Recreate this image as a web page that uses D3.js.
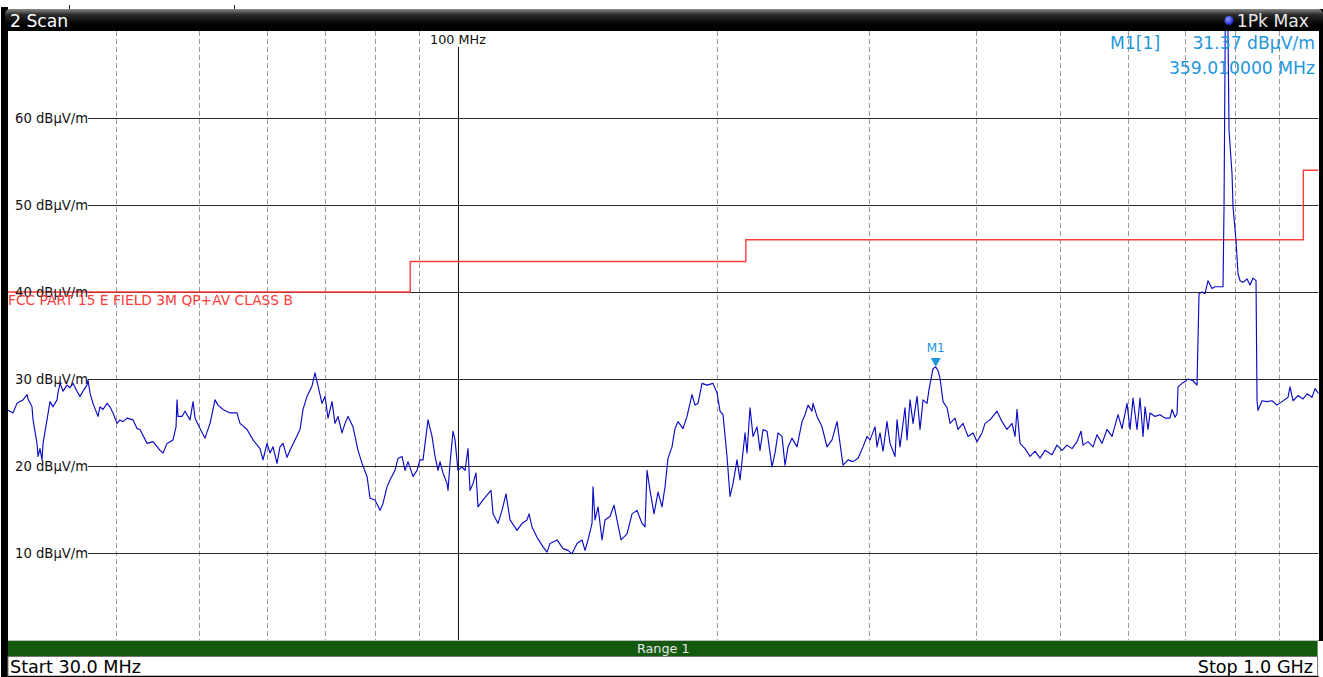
<!DOCTYPE html>
<html><head><meta charset="utf-8">
<script src="https://cdn.jsdelivr.net/npm/d3@7"></script>
<style>
html,body{margin:0;padding:0;background:#fff;}
svg{display:block;font-family:"DejaVu Sans",Verdana,sans-serif;}
</style></head><body>
<svg id="c" width="1323" height="677"></svg>
<script>
// ---- data ----
const freqMHz = [
30,30.16,30.4,30.73,30.98,31.23,31.57,31.65,31.99,32.08,
32.42,32.51,32.68,32.86,32.95,33.3,33.57,33.84,34.2,34.29,
34.48,34.76,35.13,35.41,35.7,36.08,36.37,36.67,37.06,37.16,
37.36,37.66,38.17,38.37,38.68,39.1,39.41,39.73,40.16,40.48,
40.81,41.25,41.92,42.37,42.71,43.52,44.22,45.06,45.42,45.91,
46.65,47.03,47.15,47.28,47.79,48.17,48.82,49.22,49.48,50.15,
50.82,51.51,52.2,52.62,53.33,54.34,55.36,55.81,56.87,57.79,
58.88,59.35,59.99,60.48,60.96,61.62,62.11,62.62,63.29,63.8,
64.66,65.53,66.06,66.77,67.67,68.21,68.76,69.5,70.06,70.63,
71.39,71.96,72.54,73.32,73.91,74.51,75.51,76.53,77.35,78.4,
79.03,80.09,81.17,81.82,82.7,83.37,84.49,85.18,86.09,86.79,
87.48,88.66,89.62,90.34,91.07,92.29,93.29,94.04,94.8,95.31,
96.07,97.11,97.37,97.89,98.68,99.21,100,101.08,101.9,102.72,
103.27,104.1,104.94,105.5,106.93,108.37,109.24,109.83,111.3,112.5,
113.71,114.94,117.11,118.69,120.28,120.93,121.9,123.55,125.54,126.9,
127.92,130.34,132.45,134.23,135.67,137.5,139.35,140.48,141.61,143.13,
143.52,144.29,145.45,147.01,148.2,150.19,151.81,153.03,154.68,157.18,
159.3,161.45,163.62,164.94,165.82,167.16,168.96,170.78,172.61,174,
175.41,177.29,178.72,180.16,182.59,184.55,187.04,188.55,190.07,192.11,
194.7,197.85,199.98,201.59,203.21,205.4,207.06,208.73,210.97,212.67,
215.54,216.69,218.44,220.2,222.57,224.36,226.17,228.6,231.68,233.55,
235.43,237.96,239.88,241.82,244.42,247.71,251.05,253.07,255.11,257.85,
258.54,261.33,264.85,268.41,272.03,275.69,277.91,280.15,283.93,287.75,
291.63,295.55,298.73,301.14,305.2,306.83,309.31,311.8,315.15,317.69,
321.97,323.7,326.31,330.7,332.48,335.16,337.86,341.49,344.25,347.02,
350.75,352.64,356.43,359.01,361.23,363.17,366.1,370.04,373.02,378.04,
381.09,386.22,391.42,396.69,400.96,406.36,409.64,415.15,423,428.7,
434.47,440.32,443.87,446.25,449.85,455.91,462.05,468.27,474.58,480.97,
490.06,496.66,503.35,510.13,517,523.96,529.6,532.44,539.61,546.88,
552.76,560.21,567.75,575.4,584.71,591,598.96,603.79,608.66,615.2,
620.16,625.16,628.51,633.58,636.98,645.56,654.25,663.06,671.99,675.6,
681.04,684.7,686.53,693.92,699.51,705.15,714.64,722.33,726.21,732.06,
737.96,743.91,751.91,757.97,768.18,774.37,776.44,779.55,783.74,786.89,
793.23,795.35,801.77,806.07,810.39,816.92,825.71,832.37,839.08,845.84,
848.11,850.38,859.53,871.11,882.84,894.73,906.78,921.45,926.4,933.86,
946.44,959.19,969.5,982.56,990.47,1000
];
const levelDbuVm = [
26.4,26.3,26.1,27.2,27.4,27.6,28.2,27.7,26.8,25.3,
22.6,21.1,22.0,20.7,22.6,25.3,27.4,26.8,27.6,28.4,
29.5,28.6,29.3,29.0,29.5,28.6,28.0,28.6,29.3,29.9,
28.4,27.2,25.7,26.8,26.5,27.2,26.8,26.1,24.9,25.3,
25.1,25.5,25.3,24.3,24.2,22.6,22.8,21.8,21.5,22.6,
23.0,24.5,27.6,25.7,25.7,26.3,25.3,27.4,25.5,24.3,
23.2,24.9,27.6,27.0,26.5,26.1,26.1,24.9,24.2,23.0,
22.0,20.7,22.6,21.5,22.2,20.3,22.2,22.6,21.0,21.8,
23.0,24.2,26.5,28.0,29.2,30.7,29.2,27.2,28.0,25.5,
27.4,24.9,25.7,23.8,24.9,25.7,24.5,21.8,20.3,18.8,
16.3,16.1,14.9,15.7,17.6,18.4,19.5,20.9,21.1,19.5,
20.5,18.8,19.5,20.7,20.7,25.3,23.4,21.1,19.5,20.5,
19.2,18.0,17.2,20.3,24.0,23.0,19.5,19.9,19.5,22.0,
17.2,18.0,19.2,15.3,16.1,16.8,17.2,14.5,13.4,14.9,
16.8,13.8,12.6,13.4,13.8,14.5,13.0,11.8,10.7,10.1,
11.1,11.5,10.5,10.3,9.9,11.1,11.5,10.3,11.5,13.4,
17.6,13.8,15.3,11.5,13.8,14.2,15.5,13.8,11.5,12.2,
14.5,14.9,13.4,13.0,19.5,17.2,14.5,17.0,15.3,17.6,
20.9,22.2,24.3,25.1,24.3,25.7,28.2,27.0,27.2,29.5,
29.3,29.5,28.4,26.3,25.9,21.1,16.5,18.0,20.7,18.4,
23.8,21.5,26.7,23.4,24.5,21.8,24.2,24.0,19.9,21.5,
23.8,23.4,20.1,22.2,23.2,22.2,25.1,25.9,27.0,26.3,
27.2,25.7,24.5,22.2,23.0,25.1,22.6,20.1,20.7,20.5,
20.9,22.2,23.4,23.0,24.5,22.2,23.8,21.7,25.1,22.6,
21.1,25.3,22.2,26.7,23.0,27.6,24.9,28.0,24.2,27.6,
27.2,28.8,31.2,31.37,31.0,30.1,27.4,26.7,24.9,25.5,
24.2,24.9,23.4,23.8,22.8,23.8,24.9,25.3,26.3,25.1,
24.2,24.9,23.4,26.5,22.6,22.0,21.1,21.7,20.9,21.8,
21.3,22.4,21.8,22.4,22.0,22.8,24.0,22.4,22.8,22.2,
23.6,22.6,24.2,23.4,25.9,24.3,27.2,24.2,27.8,24.2,
27.8,23.4,26.8,24.2,26.1,25.7,25.9,25.5,25.5,26.5,
25.6,26.0,29.1,29.5,29.7,30.0,29.8,29.3,39.8,40.0,
39.8,41.3,40.4,40.6,40.6,40.6,49.8,75,75,58.6,
53.6,49.8,45.9,42.1,41.3,41.1,41.5,40.8,41.6,41.3,
27.5,26.4,27.5,27.4,27.5,27.0,27.4,27.9,29.1,27.5,
28.1,27.7,28.3,27.9,28.9,28.3
];
const limitFreq  = [30, 88, 88, 216, 216, 960, 960, 1000];
const limitLevel = [40, 40, 43.5, 43.5, 46, 46, 54, 54];
const levelTicks = [10, 20, 30, 40, 50, 60];
const levelTickLabels = ["10 dBµV/m","20 dBµV/m","30 dBµV/m","40 dBµV/m","50 dBµV/m","60 dBµV/m"];
const freqMinorGrid = [40, 50, 60, 70, 80, 90, 200, 300, 400, 500, 600, 700, 800, 900];
const freqMajorGrid = [100];
const freqMajorLabels = ["100 MHz"];
const markerFreq = 359.01;
const markerLevel = 31.37;
const limitName = "FCC PART 15 E FIELD 3M QP+AV CLASS B";

// ---- layout ----
const svg = d3.select("#c");
const L = 8, R = 1318.6, T = 31, B = 640;
const x = d3.scaleLog().domain([30, 1000]).range([L, R]);
const y = d3.scaleLinear().domain([0, 70]).range([B, T]);

const defs = svg.append("defs");
const g1 = defs.append("linearGradient").attr("id","tb").attr("x1",0).attr("y1",0).attr("x2",0).attr("y2",1);
g1.append("stop").attr("offset","0%").attr("stop-color","#8a8a8a");
g1.append("stop").attr("offset","22%").attr("stop-color","#2a2a2a");
g1.append("stop").attr("offset","60%").attr("stop-color","#000");
g1.append("stop").attr("offset","100%").attr("stop-color","#000");
const gd = defs.append("radialGradient").attr("id","dot").attr("cx","40%").attr("cy","35%").attr("r","65%");
gd.append("stop").attr("offset","0%").attr("stop-color","#8c9cff");
gd.append("stop").attr("offset","100%").attr("stop-color","#1c22c8");
defs.append("clipPath").attr("id","plot").append("rect").attr("x",L).attr("y",T).attr("width",R-L).attr("height",B-T);

// frame
svg.append("rect").attr("x",0).attr("y",0).attr("width",1323).attr("height",677).attr("fill","#fff");
svg.append("rect").attr("x",1).attr("y",7).attr("width",7).attr("height",670).attr("fill","#000");
svg.append("rect").attr("x",1318).attr("y",9).attr("width",5).attr("height",632).attr("fill","#000");
svg.append("rect").attr("x",5).attr("y",9).attr("width",1318).attr("height",26).attr("rx",5).attr("fill","url(#tb)");
svg.append("rect").attr("x",L).attr("y",T).attr("width",R-L+0.4).attr("height",B-T).attr("fill","#fff");
svg.append("line").attr("x1",69.5).attr("x2",69.5).attr("y1",5).attr("y2",9).attr("stroke","#333");
svg.append("line").attr("x1",234.5).attr("x2",234.5).attr("y1",5).attr("y2",9).attr("stroke","#333");

const plot = svg.append("g").attr("clip-path","url(#plot)");

// vertical dashed grid
plot.selectAll("line.vg").data(freqMinorGrid).join("line")
  .attr("x1",d=>Math.round(x(d))+0.5).attr("x2",d=>Math.round(x(d))+0.5)
  .attr("y1",T).attr("y2",B)
  .attr("stroke","#9a9a9a").attr("stroke-dasharray","5,3").attr("stroke-width",1);

// 100 MHz solid line
plot.selectAll("line.vm").data(freqMajorGrid).join("line")
  .attr("x1",d=>Math.round(x(d))+0.5).attr("x2",d=>Math.round(x(d))+0.5)
  .attr("y1",47).attr("y2",B).attr("stroke","#111").attr("stroke-width",1);
svg.selectAll("text.vm").data(freqMajorGrid).join("text")
  .attr("x",d=>x(d)).attr("y",44).attr("text-anchor","middle")
  .attr("font-size",12.8).attr("fill","#111").text((d,i)=>freqMajorLabels[i]);

// horizontal grid + labels
plot.selectAll("line.hg").data(levelTicks).join("line")
  .attr("x1",88).attr("x2",R).attr("y1",d=>Math.round(y(d))+0.5).attr("y2",d=>Math.round(y(d))+0.5)
  .attr("stroke","#2a2a2a").attr("stroke-width",1);
svg.selectAll("text.hl").data(levelTicks).join("text")
  .attr("x",15).attr("y",d=>y(d)+4.5).attr("font-size",13.2).attr("fill","#111")
  .text((d,i)=>levelTickLabels[i]);

// limit line
const limitData = limitFreq.map((f,i)=>[f,limitLevel[i]]);
plot.append("path").datum(limitData)
  .attr("d", d3.line().x(d=>x(d[0])).y(d=>y(d[1])))
  .attr("fill","none").attr("stroke","#ff3b3b").attr("stroke-width",1.4);
svg.append("text").attr("x",8).attr("y",305).attr("font-size",13.8).attr("fill","#ff3b3b").text(limitName);

// trace
const trace = freqMHz.map((f,i)=>[f,levelDbuVm[i]]);
plot.append("path").datum(trace)
  .attr("d", d3.line().x(d=>x(d[0])).y(d=>y(d[1])))
  .attr("fill","none").attr("stroke","#0b0bc4").attr("stroke-width",1.15).attr("stroke-linejoin","round");

// marker
const mx = x(markerFreq), my = y(markerLevel);
svg.append("path").attr("d",`M${mx-5},${my-9} L${mx+5},${my-9} L${mx},${my} Z`).attr("fill","#1e96dc");
svg.append("text").attr("x",mx).attr("y",my-15).attr("text-anchor","middle").attr("font-size",12).attr("fill","#1e96dc").text("M1");

// marker readout
svg.append("text").attr("x",1110).attr("y",49).attr("font-size",17.2).attr("fill","#1e96dc").text("M1[1]");
svg.append("text").attr("x",1315).attr("y",49).attr("text-anchor","end").attr("font-size",17.2).attr("fill","#1e96dc")
  .text(d3.format(".2f")(markerLevel)+" dBµV/m");
svg.append("text").attr("x",1315).attr("y",74).attr("text-anchor","end").attr("font-size",17.2).attr("fill","#1e96dc")
  .text(d3.format(".6f")(markerFreq)+" MHz");

// title bar texts
svg.append("text").attr("x",10).attr("y",27).attr("font-size",17.2).attr("fill","#fff").text("2 Scan");
svg.append("circle").attr("cx",1229).attr("cy",20.5).attr("r",4.5).attr("fill","url(#dot)");
svg.append("text").attr("x",1309).attr("y",27).attr("text-anchor","end").attr("font-size",17.2).attr("fill","#e8e8e8").text("1Pk Max");

// range bar
svg.append("rect").attr("x",L).attr("y",640).attr("width",R-L).attr("height",1).attr("fill","#bdbdbd");
svg.append("rect").attr("x",L).attr("y",641).attr("width",R-L-1).attr("height",15.5).attr("fill","#145a0e");
svg.append("text").attr("x",(L+R)/2).attr("y",653).attr("text-anchor","middle").attr("font-size",12.8).attr("fill","#e6e6e6").text("Range 1");

// footer
svg.append("rect").attr("x",L).attr("y",656.5).attr("width",R-L-1).attr("height",19.5).attr("fill","#fff").attr("stroke","#777").attr("stroke-width",1);
svg.append("line").attr("x1",L).attr("x2",R).attr("y1",676.5).attr("y2",676.5).attr("stroke","#000");
svg.append("text").attr("x",10).attr("y",673).attr("font-size",17.6).attr("fill","#000").text("Start 30.0 MHz");
svg.append("text").attr("x",1313).attr("y",673).attr("text-anchor","end").attr("font-size",17.6).attr("fill","#000").text("Stop 1.0 GHz");
</script>
</body></html>
